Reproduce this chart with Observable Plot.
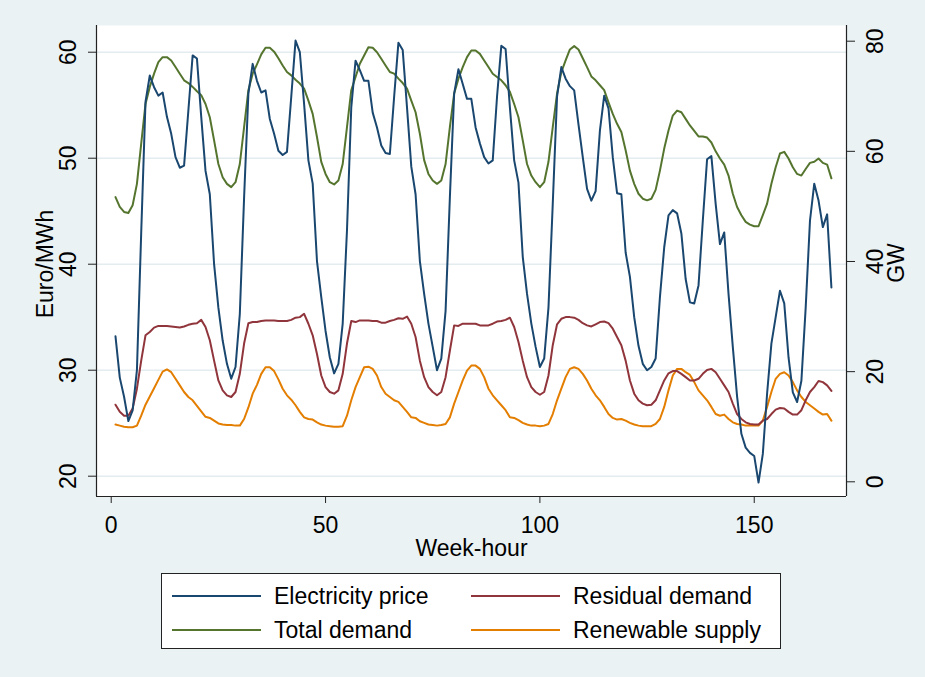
<!DOCTYPE html>
<html>
<head>
<meta charset="utf-8">
<script src="https://cdn.jsdelivr.net/npm/d3@7"></script>
<script src="https://cdn.jsdelivr.net/npm/@observablehq/plot@0.6"></script>
<style>
  html, body { margin: 0; padding: 0; }
  body { width: 925px; height: 677px; background: #eaf2f3; position: relative; overflow: hidden;
         font-family: "Liberation Sans", Arial, sans-serif; }
  #chart { position: absolute; left: 0; top: 0; }
  #legend { position: absolute; left: 161px; top: 573px; width: 618px; height: 74px;
            background: #fff; border: 1px solid #222; }
  .item { position: absolute; height: 30px; display: flex; align-items: center; font-size: 23px; color: #000; }
  .swatch { width: 89px; height: 2px; margin-right: 13px; }
</style>
</head>
<body>
<div id="chart"></div>
<div id="legend"></div>
<script>
// ---- data ----
const hours = d3.range(1, 169);
const priceTicks = [20, 30, 40, 50, 60];
const gwTicks = [0, 20, 40, 60, 80];
const hourTicks = [0, 50, 100, 150];
const seriesNames = ["Electricity price", "Residual demand", "Total demand", "Renewable supply"];
const seriesColors = ["#1a476f", "#90353b", "#55752f", "#e37e00"];

const price = [
  33.2, 29.3, 27.5, 25.2, 26.2, 30.0, 43.0, 55.3, 57.8, 56.7, 55.9, 56.2,
  53.9, 52.3, 50.1, 49.1, 49.3, 54.5, 59.7, 59.4, 53.9, 48.8, 46.6, 40.0,
  35.9, 32.8, 30.6, 29.2, 30.3, 35.3, 46.3, 56.1, 58.9, 57.3, 56.2, 56.4,
  53.7, 52.3, 50.7, 50.3, 50.6, 55.8, 61.1, 60.0, 55.1, 49.8, 47.6, 40.3,
  36.9, 33.7, 31.2, 29.7, 30.6, 34.4, 43.2, 54.8, 59.2, 58.3, 57.3, 57.3,
  54.3, 52.9, 51.2, 50.5, 50.4, 55.8, 60.9, 60.2, 54.8, 49.2, 46.6, 40.3,
  37.2, 34.4, 32.2, 30.0, 31.1, 35.6, 46.3, 56.1, 58.4, 57.0, 55.6, 55.6,
  52.9, 51.4, 50.1, 49.5, 49.8, 55.8, 60.6, 60.3, 54.8, 49.8, 47.7, 40.7,
  37.2, 34.4, 32.2, 30.3, 31.1, 35.9, 45.7, 55.8, 58.6, 57.5, 56.8, 56.4,
  53.2, 50.1, 47.1, 46.0, 46.9, 52.6, 55.9, 54.7, 50.1, 46.7, 46.6, 41.1,
  38.8, 35.0, 32.3, 30.6, 30.0, 30.3, 31.1, 36.9, 41.6, 44.6, 45.1, 44.8,
  42.9, 38.6, 36.4, 36.3, 38.0, 44.1, 49.9, 50.2, 45.7, 41.9, 43.0, 37.2,
  32.2, 27.5, 24.0, 22.7, 22.2, 21.9, 19.4, 22.1, 27.8, 32.5, 35.0, 37.5,
  36.3, 31.2, 27.9, 27.0, 29.0, 35.9, 44.1, 47.6, 46.0, 43.5, 44.7, 37.8
];
const totalDemand = [
  51.7, 49.9, 49.0, 48.8, 50.2, 54.1, 61.4, 68.6, 71.7, 74.1, 76.2, 77.1,
  77.1, 76.5, 75.3, 74.1, 72.9, 72.4, 71.7, 70.9, 70.2, 68.6, 66.2, 62.0,
  57.7, 55.3, 54.1, 53.5, 54.4, 57.7, 64.4, 71.1, 74.1, 75.8, 77.6, 78.8,
  78.8, 78.1, 76.9, 75.6, 74.4, 73.8, 73.0, 72.3, 71.4, 69.2, 66.8, 62.6,
  58.1, 55.9, 54.4, 54.0, 54.7, 57.7, 64.4, 71.1, 73.5, 75.9, 77.4, 78.9,
  78.8, 78.0, 76.8, 75.6, 74.4, 74.1, 73.2, 72.4, 71.4, 69.2, 67.1, 63.2,
  58.4, 55.9, 54.7, 54.1, 54.7, 57.7, 64.4, 70.5, 73.2, 75.3, 77.1, 78.3,
  78.3, 77.7, 76.5, 75.3, 74.1, 73.5, 72.9, 72.0, 70.8, 68.6, 66.2, 62.0,
  57.7, 55.6, 54.4, 53.5, 54.4, 58.1, 64.4, 70.5, 74.4, 76.5, 78.5, 79.1,
  78.5, 76.9, 75.3, 73.6, 72.9, 72.0, 71.1, 68.9, 66.8, 65.0, 63.5, 60.2,
  56.5, 54.1, 52.3, 51.4, 51.1, 51.4, 53.0, 56.5, 60.5, 63.8, 66.5, 67.4,
  67.1, 65.9, 64.7, 63.7, 62.7, 62.7, 62.5, 61.6, 60.0, 58.7, 57.6, 55.6,
  52.3, 49.9, 48.4, 47.2, 46.7, 46.4, 46.4, 48.4, 50.5, 54.1, 57.1, 59.6,
  59.9, 58.7, 57.1, 55.9, 55.6, 56.8, 57.9, 58.1, 58.7, 57.9, 57.6, 55.1
];
const residualDemand = [
  14.0, 12.7, 12.0, 12.0, 13.3, 16.9, 22.0, 26.6, 27.2, 28.0, 28.3, 28.3,
  28.3, 28.2, 28.1, 28.0, 28.2, 28.5, 28.7, 28.8, 29.4, 28.1, 25.7, 22.0,
  18.4, 16.6, 15.7, 15.4, 16.3, 19.6, 25.1, 28.8, 29.0, 29.0, 29.2, 29.3,
  29.3, 29.3, 29.2, 29.2, 29.2, 29.4, 29.8, 29.9, 30.5, 28.7, 26.6, 23.2,
  19.3, 17.2, 16.3, 16.0, 16.6, 19.6, 25.1, 29.2, 29.0, 29.3, 29.3, 29.3,
  29.2, 29.2, 28.9, 28.9, 29.2, 29.4, 29.7, 29.6, 30.0, 28.7, 26.3, 22.0,
  19.0, 17.2, 16.3, 15.7, 16.3, 19.0, 23.8, 28.4, 28.3, 28.7, 28.7, 28.7,
  28.7, 28.4, 28.4, 28.4, 28.7, 29.1, 29.2, 29.4, 29.8, 28.1, 25.4, 22.0,
  19.0, 17.2, 16.3, 15.8, 16.3, 19.3, 24.8, 28.6, 29.6, 29.9, 29.9, 29.8,
  29.4, 28.8, 28.4, 28.2, 28.6, 29.0, 29.1, 28.8, 27.8, 26.3, 24.8, 22.0,
  18.4, 16.0, 14.8, 14.2, 13.9, 14.0, 14.8, 16.6, 18.4, 19.7, 20.1, 20.1,
  19.6, 19.0, 18.4, 18.4, 18.7, 19.6, 20.3, 20.5, 19.9, 18.7, 17.5, 16.3,
  14.2, 12.3, 11.4, 10.8, 10.5, 10.4, 10.4, 11.1, 11.4, 12.3, 13.1, 13.4,
  13.3, 12.7, 12.2, 12.2, 13.0, 14.8, 16.3, 17.2, 18.3, 18.1, 17.5, 16.5
];
const renewableSupply = [
  10.4, 10.2, 10.0, 9.9, 9.9, 10.2, 12.0, 14.0, 15.5, 17.0, 18.5, 20.0,
  20.4, 19.9, 18.7, 17.5, 16.3, 15.4, 14.8, 13.8, 12.8, 11.8, 11.6, 11.1,
  10.6, 10.4, 10.3, 10.3, 10.2, 10.2, 11.4, 13.5, 16.0, 17.6, 19.6, 20.8,
  20.8, 20.1, 18.6, 16.9, 15.7, 14.9, 13.9, 12.7, 11.7, 11.4, 11.3, 10.8,
  10.4, 10.2, 10.1, 10.0, 10.0, 10.1, 12.0, 14.8, 17.2, 19.0, 20.8, 20.9,
  20.5, 19.3, 17.2, 16.0, 15.4, 14.8, 14.5, 13.6, 12.7, 11.7, 11.6, 11.0,
  10.7, 10.4, 10.3, 10.2, 10.3, 10.5, 11.7, 14.2, 16.3, 18.4, 20.2, 21.1,
  21.1, 20.5, 19.0, 16.9, 15.7, 14.8, 13.9, 13.0, 11.7, 11.6, 11.2, 10.7,
  10.4, 10.2, 10.2, 10.1, 10.2, 10.5, 12.3, 14.8, 16.9, 19.0, 20.5, 20.8,
  20.5, 19.6, 18.4, 16.9, 15.7, 14.8, 13.6, 12.3, 11.6, 11.3, 11.4, 11.1,
  10.7, 10.4, 10.2, 10.1, 10.1, 10.1, 10.5, 11.4, 13.6, 16.6, 19.3, 20.5,
  20.5, 19.9, 19.4, 18.1, 16.6, 15.7, 14.8, 13.6, 12.3, 12.0, 12.2, 11.4,
  10.8, 10.5, 10.4, 10.2, 10.2, 10.2, 10.2, 11.1, 13.6, 16.3, 18.7, 19.6,
  19.9, 19.3, 18.1, 16.6, 15.4, 14.5, 13.9, 13.3, 12.7, 12.2, 12.3, 11.1
];

// right axis (GW) expressed on the left (Euro/MWh) scale
const gw2e = d3.scaleLinear().domain([0, 80]).range([19.472, 61.04]);
const xDomain = [-3.43, 171.52];
const yDomain = [18.085, 62.52];
const FS = 23;
const axisColor = "#222";

const chart = Plot.plot({
  width: 925,
  height: 570,
  marginLeft: 96,
  marginRight: 79,
  marginTop: 25,
  marginBottom: 74,
  x: { domain: xDomain },
  y: { domain: yDomain },
  style: { background: "transparent", fontFamily: "'Liberation Sans', Arial, sans-serif", color: "#000" },
  marks: [
    Plot.frame({ fill: "white", stroke: null }),
    Plot.gridY(priceTicks, { stroke: "#e3ecef", strokeOpacity: 1, strokeWidth: 1.6 }),
    // axis lines
    Plot.ruleX([xDomain[0]], { stroke: axisColor, strokeWidth: 1.2 }),
    Plot.ruleX([xDomain[1]], { stroke: axisColor, strokeWidth: 1.2 }),
    Plot.ruleY([yDomain[0]], { stroke: axisColor, strokeWidth: 1.2 }),
    // tick marks
    Plot.axisY({ anchor: "left", ticks: priceTicks, tickSize: 8, tickFormat: () => "", stroke: axisColor, label: null }),
    Plot.axisY({ anchor: "right", ticks: gwTicks.map(gw2e), tickSize: 8, tickFormat: () => "", stroke: axisColor, label: null }),
    Plot.axisX({ anchor: "bottom", ticks: hourTicks, tickSize: 7, tickFormat: () => "", stroke: axisColor, label: null }),
    // tick labels
    Plot.text(priceTicks, { y: d => d, text: d => String(d), frameAnchor: "left", dx: -28, rotate: -90,
      textAnchor: "middle", lineAnchor: "middle", fontSize: FS, fill: "#000" }),
    Plot.text(gwTicks, { y: d => gw2e(d), text: d => String(d), frameAnchor: "right", dx: 29, rotate: -90,
      textAnchor: "middle", lineAnchor: "middle", fontSize: FS, fill: "#000" }),
    Plot.text(hourTicks, { x: d => d, text: d => String(d), frameAnchor: "bottom", dy: 29,
      lineAnchor: "middle", fontSize: FS, fill: "#000" }),
    // axis titles
    Plot.text(["Euro/MWh"], { text: d => d, frameAnchor: "left", dx: -51, dy: 3, rotate: -90,
      textAnchor: "middle", lineAnchor: "middle", fontSize: FS, fill: "#000" }),
    Plot.text(["GW"], { text: d => d, frameAnchor: "right", dx: 50, dy: 2, rotate: -90,
      textAnchor: "middle", lineAnchor: "middle", fontSize: FS, fill: "#000" }),
    Plot.text(["Week-hour"], { text: d => d, frameAnchor: "bottom", dy: 52,
      textAnchor: "middle", lineAnchor: "middle", fontSize: FS, fill: "#000" }),
    // series
    Plot.line(hours, { x: d => d, y: (d, i) => gw2e(totalDemand[i]), stroke: seriesColors[2], strokeWidth: 2 }),
    Plot.line(hours, { x: d => d, y: (d, i) => gw2e(renewableSupply[i]), stroke: seriesColors[3], strokeWidth: 2 }),
    Plot.line(hours, { x: d => d, y: (d, i) => gw2e(residualDemand[i]), stroke: seriesColors[1], strokeWidth: 2 }),
    Plot.line(hours, { x: d => d, y: (d, i) => price[i], stroke: seriesColors[0], strokeWidth: 2 })
  ]
});
document.getElementById("chart").appendChild(chart);

// legend
const legend = document.getElementById("legend");
const pos = [[10, 7], [309, 7], [10, 41], [309, 41]];
seriesNames.forEach((name, i) => {
  const item = document.createElement("div");
  item.className = "item";
  item.style.left = pos[i][0] + "px";
  item.style.top = pos[i][1] + "px";
  const sw = document.createElement("div");
  sw.className = "swatch";
  sw.style.background = seriesColors[i];
  const label = document.createElement("span");
  label.textContent = name;
  item.appendChild(sw);
  item.appendChild(label);
  legend.appendChild(item);
});
</script>
</body>
</html>
